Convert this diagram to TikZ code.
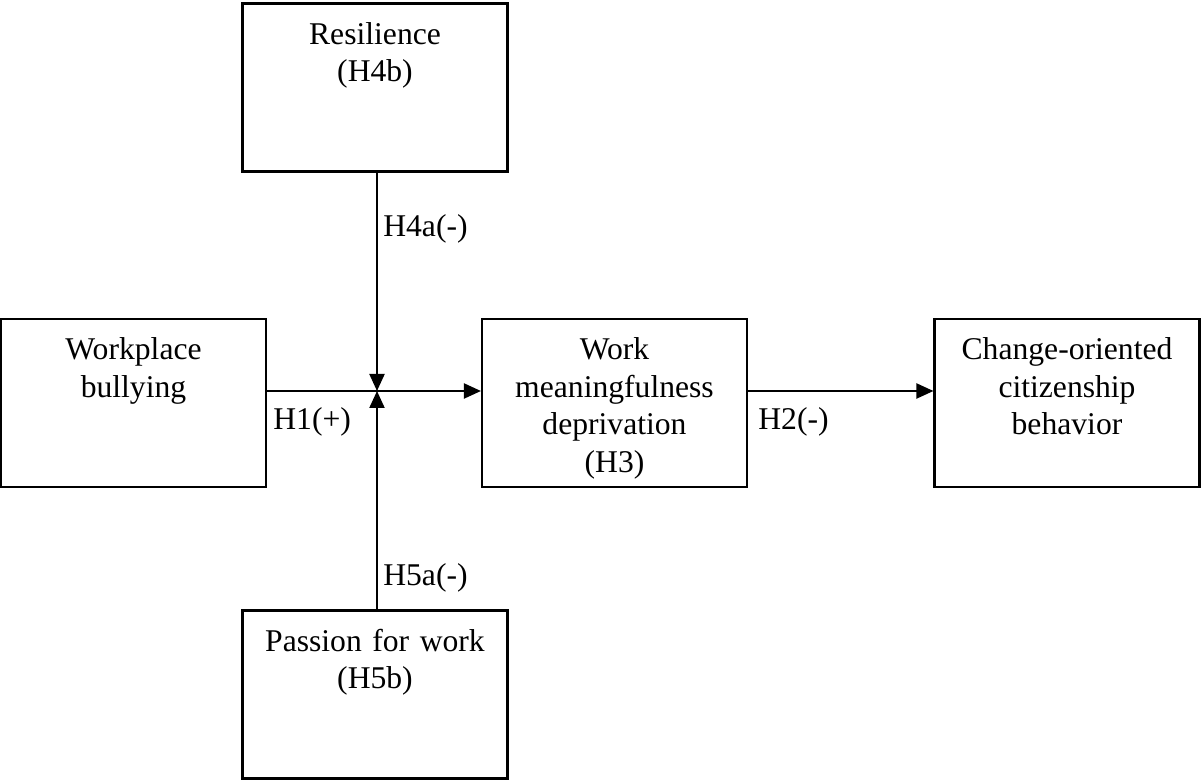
\documentclass[tikz,border=0pt]{standalone}
\usepackage{fontspec}
\setmainfont{Liberation Serif}
\usetikzlibrary{arrows.meta}
\begin{document}
\begin{tikzpicture}
\tikzstyle{factor}=[draw, rectangle, line width=1.2pt, text width=5cm, inner xsep=0.15cm, inner ysep=0pt, text height=0.82cm, text depth=2.54cm, align=center, font=\fontsize{18}{21.3}\selectfont]
\tikzstyle{line}=[draw, line width=1.2pt, -{Triangle[length=0.34cm,width=0.30cm]}]
\tikzstyle{hyp}=[inner sep=3pt, font=\fontsize{18}{21.3}\selectfont]

\useasboundingbox (0,0) rectangle (24.02,15.62);

% Define factors
\node[factor] (resilience) at (7.50,13.87) {Resilience\\(H4b)};
\node[factor] (bullying) at (2.67,7.56) {Workplace\\bullying};
\node[factor] (deprivation) at (12.29,7.56) {Work\\meaningfulness\\deprivation\\(H3)};
\node[factor] (citizenship) at (21.34,7.56) {Change-oriented\\citizenship\\behavior};
\node[factor] (passion) at (7.50,1.73) {Passion for work\\(H5b)};

% Moderation point
\coordinate (junction) at (7.54,7.80);

% Main paths
\draw[line] (bullying.east |- junction) -- node[hyp, anchor=north west, pos=0, yshift=-0.2cm] (h1) {H1(+)} (deprivation.west |- junction);
\draw[line] (deprivation.east |- junction) -- node[hyp, anchor=north west, pos=0, yshift=-0.2cm, xshift=0.08cm] (h2) {H2(-)} (citizenship.west |- junction);

% Moderators
\draw[line] (junction |- resilience.south) -- node[hyp, anchor=west, pos=0.26] (h4a) {H4a(-)} (junction);
\draw[line] (junction |- passion.north) -- node[hyp, anchor=west, pos=0.145] (h5a) {H5a(-)} (junction);
\end{tikzpicture}
\end{document}
